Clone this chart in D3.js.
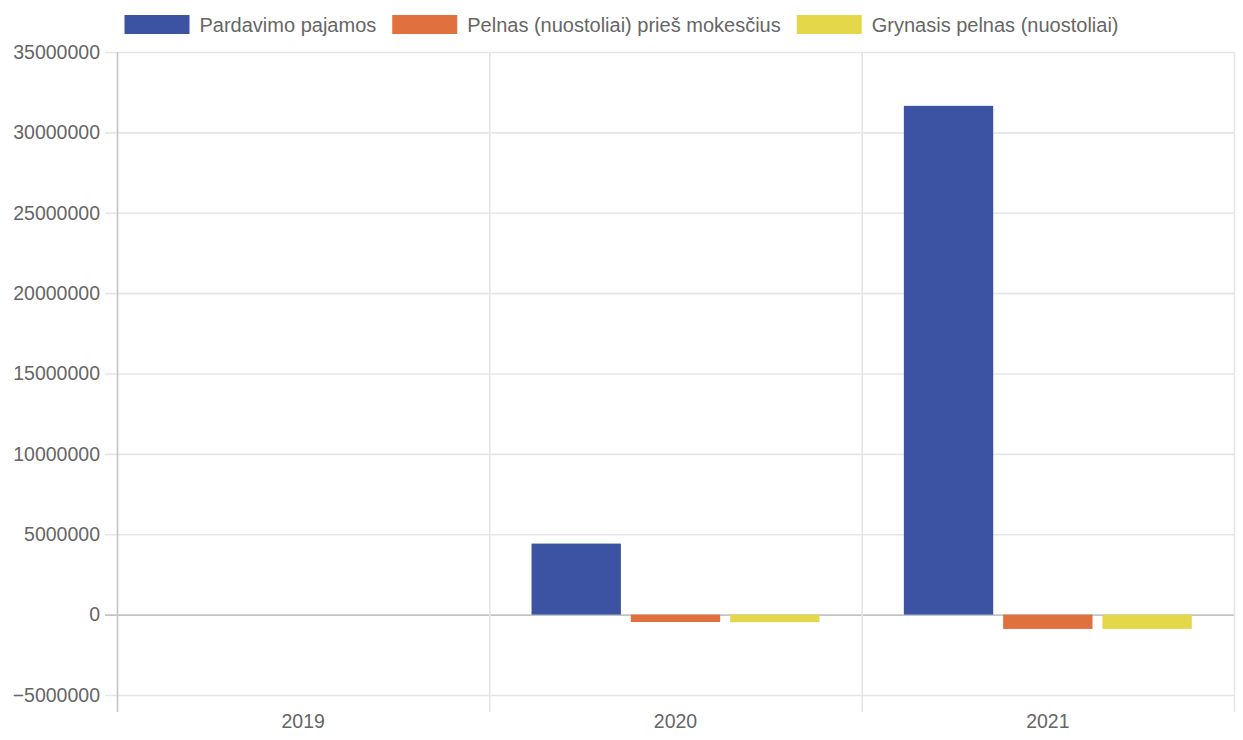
<!DOCTYPE html>
<html>
<head>
<meta charset="utf-8">
<script src="https://cdn.jsdelivr.net/npm/d3@7"></script>
<style>
  body { margin: 0; background: #ffffff; }
  text { font-family: "Liberation Sans", Arial, sans-serif; fill: #666666; }
</style>
</head>
<body>
<div id="canvas"></div>
<script>
// data
const years = ["2019", "2020", "2021"];
const seriesNames = ["Pardavimo pajamos", "Pelnas (nuostoliai) prieš mokesčius", "Grynasis pelnas (nuostoliai)"];
const seriesColors = ["#3c52a3", "#e1703f", "#e4d84a"];
const salesValues = [0, 4420000, 31650000];
const preTaxValues = [0, -460000, -890000];
const netValues = [0, -470000, -890000];
const yTicks = [-5000000, 0, 5000000, 10000000, 15000000, 20000000, 25000000, 30000000, 35000000];

const width = 1243, height = 740;
const margin = {left: 117, right: 9, top: 52, bottom: 45};
const fontSize = 19.5;
const legendFont = 20;

const seriesValues = [salesValues, preTaxValues, netValues];
let chartData = [];
years.forEach((yr, i) => {
    seriesNames.forEach((s, j) => {
        chartData.push({year: yr, series: s, value: seriesValues[j][i], color: seriesColors[j]});
    });
});

let svg = d3.select("#canvas").append("svg").attr("width", width).attr("height", height);

var x0 = d3.scaleBand()
    .domain(years)
    .range([margin.left, width - margin.right]);
var x1 = d3.scaleBand()
    .domain(seriesNames)
    .range([x0.bandwidth() * 0.1, x0.bandwidth() * 0.9])
    .paddingInner(0.1)
    .paddingOuter(0.05);
var y = d3.scaleLinear()
    .domain([-5000000, 35000000])
    .range([height - margin.bottom, margin.top]);

// horizontal grid + y labels
let yAxis = svg.append("g")
    .attr("transform", "translate(" + (margin.left - 12) + ",0)")
    .call(d3.axisLeft(y).tickValues(yTicks).tickSize(-(width - margin.right - margin.left + 12)).tickPadding(5).tickFormat(d3.format("d")));
yAxis.select(".domain").remove();
yAxis.selectAll(".tick line").attr("stroke", "#e6e6e6").attr("stroke-width", 1.6);
yAxis.selectAll(".tick").filter(d => d === 0).select("line").attr("stroke", "#c4c4c4");
yAxis.selectAll(".tick text").style("font-size", fontSize + "px").attr("fill", "#666");

// vertical grid at category edges
var edges = d3.scaleLinear().domain([0, years.length]).range([margin.left, width - margin.right]);
let xGrid = svg.append("g")
    .attr("transform", "translate(0," + (height - margin.bottom + 17) + ")")
    .call(d3.axisTop(edges).tickValues(d3.range(years.length + 1)).tickSize(height - margin.bottom + 17 - margin.top).tickFormat(""));
xGrid.select(".domain").remove();
xGrid.selectAll(".tick line").attr("stroke", "#e6e6e6").attr("stroke-width", 1.6);
xGrid.selectAll(".tick").filter(d => d === 0).select("line").attr("stroke", "#c4c4c4");

// x labels
let xAxis = svg.append("g")
    .attr("transform", "translate(0," + (height - margin.bottom) + ")")
    .call(d3.axisBottom(x0).tickSize(0).tickPadding(19));
xAxis.select(".domain").remove();
xAxis.selectAll(".tick text").style("font-size", fontSize + "px").attr("fill", "#666");

// bars
svg.append("g").selectAll("rect")
    .data(chartData)
    .enter().append("rect")
    .attr("x", d => x0(d.year) + x1(d.series))
    .attr("width", x1.bandwidth())
    .attr("y", d => y(Math.max(0, d.value)))
    .attr("height", d => Math.abs(y(d.value) - y(0)))
    .attr("fill", d => d.color);

// legend
const boxW = 65, boxH = 19, itemGap = 16, textGap = 10;
let legend = svg.append("g");
let items = legend.selectAll("g")
    .data(seriesNames)
    .enter().append("g");
items.append("rect")
    .attr("width", boxW).attr("height", boxH)
    .attr("y", 15)
    .attr("fill", (d, i) => seriesColors[i]);
items.append("text")
    .attr("x", boxW + textGap)
    .attr("y", 15 + boxH / 2)
    .attr("dy", "0.35em")
    .style("font-size", legendFont + "px")
    .text(d => d);
let widths = [];
items.each(function() {
    widths.push(boxW + textGap + d3.select(this).select("text").node().getComputedTextLength());
});
let total = d3.sum(widths) + itemGap * (widths.length - 1);
let cx = (width - total) / 2;
items.attr("transform", (d, i) => {
    let tx = cx;
    cx += widths[i] + itemGap;
    return "translate(" + tx + ",0)";
});
</script>
</body>
</html>
